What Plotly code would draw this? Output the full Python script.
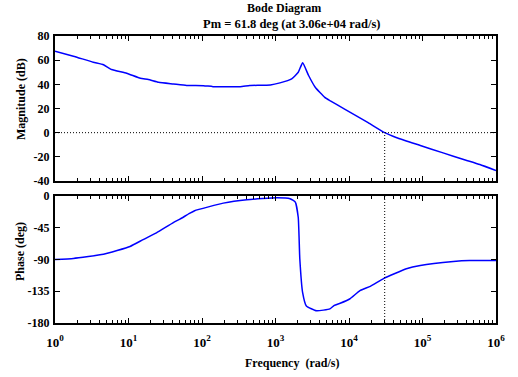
import plotly.graph_objects as go

# ---- data ----
mag_w = [1, 1.78, 3.31, 4.57, 5.89, 9.44, 14.5, 18.6, 25.7, 40.7, 61.7, 105, 141,
         331, 447, 851, 1150, 1660, 2040, 2340, 2820, 3470, 4680, 5500, 8710,
         18200, 30600, 44700, 93300, 190500, 363000, 603000, 1000000]
mag_db = [67.5, 63.3, 58.3, 56.2, 52.3, 49.2, 45.0, 44.0, 41.7, 40.3, 39.0, 38.9, 38.1,
          38.1, 39.0, 39.5, 41.2, 44.5, 50.0, 57.8, 47.3, 37.6, 29.2, 26.5, 19.5,
          8.3, 0.0, -4.2, -10.6, -16.7, -22.2, -26.4, -31.4]

ph_w = [1, 1.78, 4.57, 10.5, 15.8, 24.0, 40.7, 50.1, 67.6, 79.4, 195, 407, 1050,
        1580, 1860, 2040, 2140, 2340, 2630, 3630, 5500, 6310, 7590, 10200, 14100,
        19500, 29500, 60300, 93300, 263000, 437000, 1000000]
ph_deg = [-90, -88.5, -82.7, -71.5, -61.8, -52.2, -37.7, -32.8, -24.6, -20.8, -10.1, -5.3, -2.4,
          -3.8, -8.7, -30.5, -88.5, -137, -156, -162.7, -160, -155, -152, -146, -134,
          -128, -117, -103.1, -98.4, -92.8, -91.4, -91.4]

w_c = 3.06e4          # gain crossover frequency (rad/s)
pm = 61.8             # phase margin (deg)
mag_ticks = [-40, -20, 0, 20, 40, 60, 80]
ph_ticks = [-180, -135, -90, -45, 0]
x_tickvals = [1, 10, 100, 1000, 10000, 100000, 1000000]
x_ticktext = ["10<sup>0</sup>", "10<sup>1</sup>", "10<sup>2</sup>", "10<sup>3</sup>",
              "10<sup>4</sup>", "10<sup>5</sup>", "10<sup>6</sup>"]
minor_vals = [m * 10 ** e for e in range(0, 6) for m in range(2, 10)]

FONT = "Liberation Serif"
BLUE = "#0000FF"
DOT = "1px,2px"

fig = go.Figure()
fig.add_trace(go.Scatter(x=mag_w, y=mag_db, mode="lines",
                         line=dict(color=BLUE, width=1.5, shape="spline", smoothing=0.4),
                         xaxis="x", yaxis="y", showlegend=False, hoverinfo="skip"))
fig.add_trace(go.Scatter(x=[mag_w[0], mag_w[-1]], y=[0, 0], mode="lines",
                         line=dict(color="black", width=1, dash=DOT),
                         xaxis="x", yaxis="y", showlegend=False, hoverinfo="skip"))
fig.add_trace(go.Scatter(x=[w_c, w_c], y=[mag_ticks[0], 0], mode="lines",
                         line=dict(color="black", width=1, dash=DOT),
                         xaxis="x", yaxis="y", showlegend=False, hoverinfo="skip"))
fig.add_trace(go.Scatter(x=ph_w, y=ph_deg, mode="lines",
                         line=dict(color=BLUE, width=1.5, shape="spline", smoothing=0.4),
                         xaxis="x2", yaxis="y2", showlegend=False, hoverinfo="skip"))
fig.add_trace(go.Scatter(x=[w_c, w_c], y=[ph_ticks[0], ph_ticks[-1]], mode="lines",
                         line=dict(color="black", width=1, dash=DOT),
                         xaxis="x2", yaxis="y2", showlegend=False, hoverinfo="skip"))

ytickfont = dict(family=FONT, size=12, color="black")
xtickfont = dict(family=FONT, size=13, color="black")
common_x = dict(type="log", range=[0, 6], showline=True, linewidth=2, linecolor="black",
                mirror="ticks", ticks="inside", ticklen=5, tickwidth=1, tickcolor="black",
                tickvals=x_tickvals, ticktext=[f"<b>{t}</b>" for t in x_ticktext],
                showgrid=False, zeroline=False,
                minor=dict(tickvals=minor_vals, ticks="inside", ticklen=3, tickwidth=1,
                           tickcolor="black", showgrid=False),
                tickfont=xtickfont, ticklabelstandoff=6)
common_y = dict(showline=True, linewidth=2, linecolor="black", mirror="ticks",
                ticks="inside", ticklen=5, tickwidth=1, tickcolor="black",
                showgrid=False, zeroline=False, tickfont=ytickfont, ticklabelstandoff=1)

L, R, T, B, W, H = 55, 22, 36, 54, 518, 377
plot_h = H - T - B
plot_w = W - L - R


def py(pix_from_top):
    return (H - B - pix_from_top) / plot_h


def px(pix_from_left):
    return (pix_from_left - L) / plot_w


lab = dict(family=FONT, size=12, color="black")
fig.update_layout(
    width=W, height=H,
    margin=dict(l=L, r=R, t=T, b=B, autoexpand=False),
    paper_bgcolor="white", plot_bgcolor="white",
    xaxis=dict(**common_x, anchor="y", showticklabels=False, matches="x2"),
    yaxis=dict(**common_y, domain=[py(181), 1], range=[-40, 80], tickvals=mag_ticks,
               ticktext=[f"<b>{v}</b>" for v in mag_ticks]),
    xaxis2=dict(**common_x, anchor="y2"),
    yaxis2=dict(**common_y, domain=[0, py(196)], range=[-180, 0], tickvals=ph_ticks,
                ticktext=[f"<b>{v}</b>" for v in ph_ticks]),
    annotations=[
        dict(text="<b>Bode Diagram</b>", x=px(284), y=py(8), xref="paper", yref="paper",
             yanchor="middle", showarrow=False, font=lab),
        dict(text=f"<b>Pm = {pm} deg (at 3.06e+04 rad/s)</b>", x=px(291), y=py(24),
             xref="paper", yref="paper", yanchor="middle", showarrow=False,
             font=dict(family=FONT, size=12.5, color="black")),
        dict(text="<b>Frequency  (rad/s)</b>", x=px(292), y=py(363), xref="paper", yref="paper",
             yanchor="middle", showarrow=False, font=lab),
        dict(text="<b>Magnitude (dB)</b>", textangle=-90, xref="paper", yref="paper",
             x=px(21), y=py(99), xanchor="center", yanchor="middle", showarrow=False, font=lab),
        dict(text="<b>Phase (deg)</b>", textangle=-90, xref="paper", yref="paper",
             x=px(20), y=py(252), xanchor="center", yanchor="middle", showarrow=False, font=lab),
    ],
)

fig.write_html("out.html", config={"displayModeBar": False, "staticPlot": True},
               post_script="document.body.style.margin='0';document.body.style.padding='0';"
                           "document.documentElement.style.overflow='hidden';")
